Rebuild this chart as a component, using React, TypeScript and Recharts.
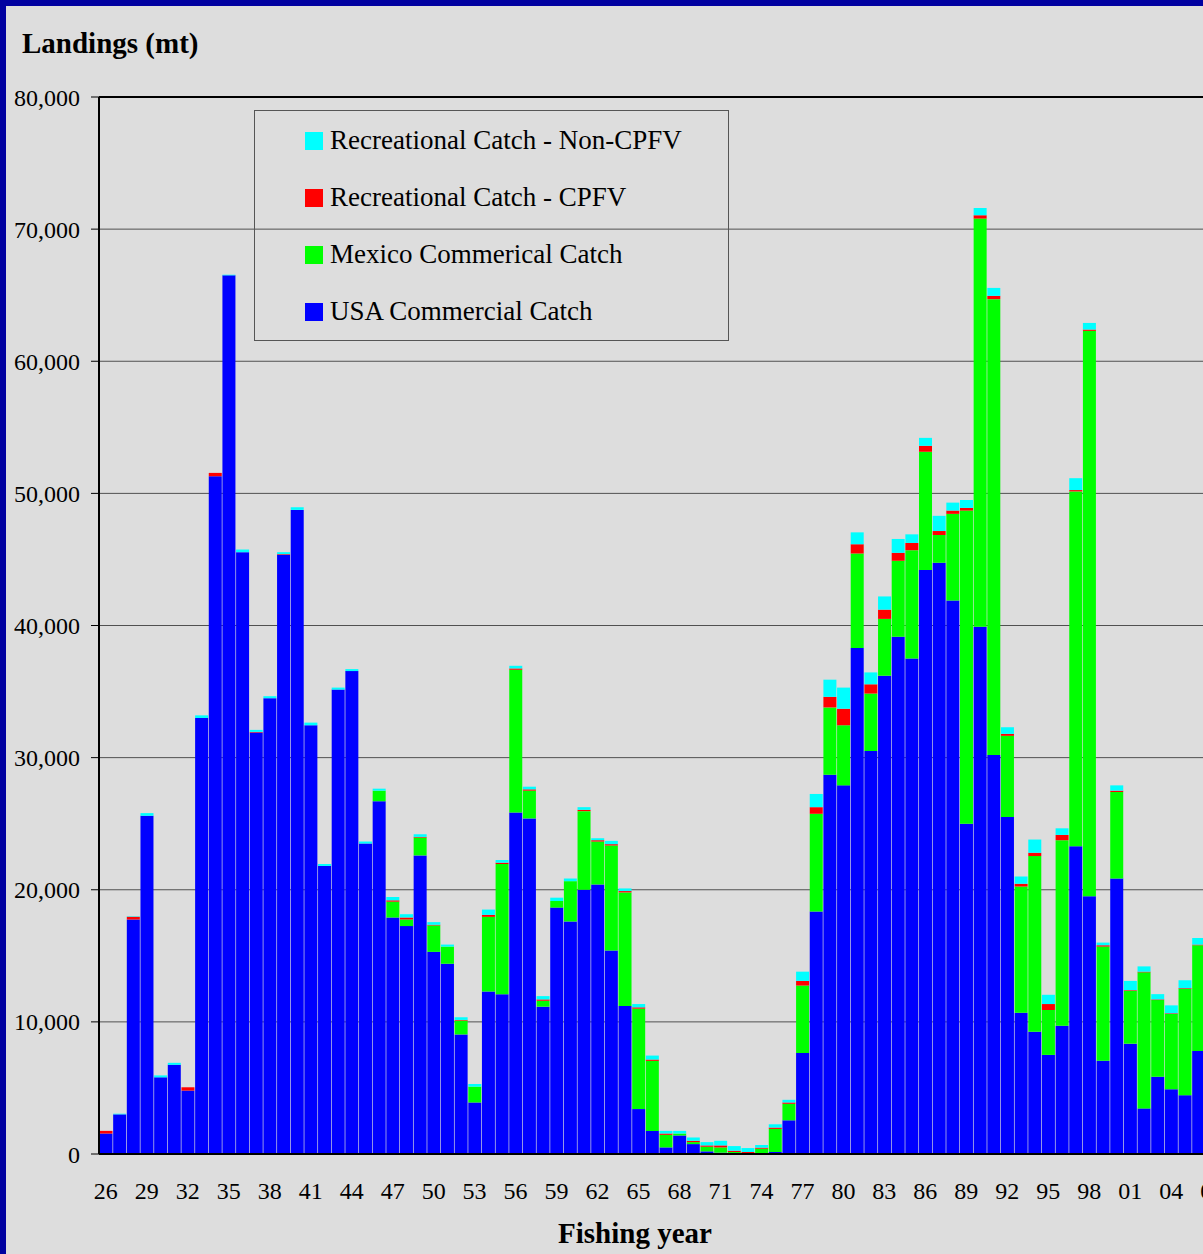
import React from 'react';
import { BarChart, Bar, XAxis, YAxis, CartesianGrid, Legend, ReferenceLine } from 'recharts';

// Fishing years (two-digit labels, 1926 - 2007)
const years = [
  '26', '27', '28', '29', '30', '31', '32', '33', '34', '35',
  '36', '37', '38', '39', '40', '41', '42', '43', '44', '45',
  '46', '47', '48', '49', '50', '51', '52', '53', '54', '55',
  '56', '57', '58', '59', '60', '61', '62', '63', '64', '65',
  '66', '67', '68', '69', '70', '71', '72', '73', '74', '75',
  '76', '77', '78', '79', '80', '81', '82', '83', '84', '85',
  '86', '87', '88', '89', '90', '91', '92', '93', '94', '95',
  '96', '97', '98', '99', '00', '01', '02', '03', '04', '05',
  '06', '07',
];

// landings in metric tons
const usaCommercial = [
  1550, 3000, 17750, 25600, 5800, 6750, 4800, 33000, 51300, 66500,
  45550, 31900, 34500, 45350, 48750, 32450, 21800, 35150, 36550, 23500,
  26700, 17900, 17250, 22600, 15300, 14400, 9050, 3900, 12300, 12100,
  25850, 25400, 11150, 18650, 17600, 20000, 20400, 15400, 11200, 3400,
  1750, 500, 1400, 750, 200, 100, 50, 20, 50, 150,
  2550, 7650, 18350, 28700, 27900, 38300, 30500, 36200, 39150, 37500,
  44200, 44750, 41900, 25000, 39900, 30200, 25500, 10700, 9250, 7500,
  9700, 23300, 19500, 7050, 20850, 8350, 3450, 5850, 4900, 4450,
  7800, null,
];

const mexicoCommercial = [
  0, 0, 0, 0, 0, 0, 0, 0, 0, 0,
  0, 0, 0, 0, 0, 0, 0, 0, 0, 0,
  800, 1200, 500, 1350, 2000, 1300, 1050, 1200, 5650, 9850,
  10800, 2100, 450, 500, 3050, 5950, 3250, 7950, 8600, 7600,
  5300, 950, 150, 150, 350, 400, 100, 50, 350, 1750,
  1250, 5100, 7400, 5100, 4550, 7150, 4350, 4300, 5750, 8200,
  8950, 2100, 6550, 23700, 30900, 34500, 6150, 9550, 13300, 3400,
  14050, 26850, 42800, 8650, 6550, 4000, 10300, 5800, 5700, 8050,
  8000, null,
];

const recCpfv = [
  200, 0, 200, 0, 0, 0, 250, 0, 250, 0,
  0, 50, 0, 50, 0, 0, 0, 0, 0, 0,
  0, 100, 150, 50, 50, 0, 50, 0, 150, 100,
  100, 100, 100, 0, 0, 100, 100, 100, 100, 100,
  100, 100, 0, 100, 100, 150, 100, 80, 80, 100,
  100, 350, 500, 800, 1250, 700, 700, 700, 600, 550,
  450, 300, 250, 200, 250, 250, 150, 200, 250, 450,
  400, 100, 100, 100, 100, 50, 50, 50, 50, 50,
  50, null,
];

const recNonCpfv = [
  0, 50, 50, 200, 150, 150, 0, 200, 0, 50,
  200, 150, 150, 150, 200, 200, 150, 150, 150, 150,
  150, 250, 250, 200, 200, 150, 200, 200, 400, 200,
  200, 200, 250, 250, 200, 200, 150, 250, 200, 250,
  300, 200, 200, 250, 250, 350, 350, 300, 200, 250,
  200, 700, 1000, 1300, 1600, 900, 900, 1000, 1050, 650,
  600, 1150, 600, 600, 550, 600, 500, 550, 1000, 700,
  500, 900, 500, 200, 400, 700, 400, 400, 600, 600,
  500, null,
];

const yTicks = [0, 10000, 20000, 30000, 40000, 50000, 60000, 70000, 80000];

const seriesNames: Record<string, string> = {
  usa: 'USA Commercial Catch',
  mexico: 'Mexico Commerical Catch',
  cpfv: 'Recreational Catch - CPFV',
  nonCpfv: 'Recreational Catch - Non-CPFV',
};

// legend reads top to bottom in this order
const legendOrder = ['nonCpfv', 'cpfv', 'mexico', 'usa'];

const data = years.map((year, i) => ({
  year,
  usa: usaCommercial[i],
  mexico: mexicoCommercial[i],
  cpfv: recCpfv[i],
  nonCpfv: recNonCpfv[i],
}));

// boundary tick positions for the category edges
const boundaryTicks = Array.from({ length: years.length + 1 }, (_, i) => i);

const FONT = "'Liberation Serif', 'Times New Roman', serif";

const LegendBox = ({ payload }: any) => {
  const items = legendOrder
    .map((key) => (payload || []).find((p: any) => p.dataKey === key))
    .filter(Boolean);
  return (
    <div
      style={{
        width: 475,
        height: 231,
        border: '1px solid #555',
        fontFamily: FONT,
        fontSize: 27,
        color: '#000',
        boxSizing: 'border-box',
        paddingTop: 1,
      }}
    >
      {items.map((item: any) => (
        <div key={item.dataKey} style={{ display: 'flex', alignItems: 'center', height: 57, marginLeft: 50 }}>
          <span style={{ display: 'inline-block', width: 18, height: 18, background: item.color, marginRight: 7 }} />
          <span>{item.value}</span>
        </div>
      ))}
    </div>
  );
};

export default function App() {
  return (
    <div
      style={{
        position: 'absolute',
        left: 0,
        top: 0,
        width: 1203,
        height: 1254,
        overflow: 'hidden',
        background: '#DDDDDD',
        fontFamily: FONT,
      }}
    >
      <div style={{ position: 'absolute', left: 0, top: 0, width: 1203, height: 6, background: '#0000A0' }} />
      <div style={{ position: 'absolute', left: 0, top: 0, width: 6, height: 1254, background: '#0000A0' }} />
      <div
        style={{
          position: 'absolute',
          left: 22,
          top: 29,
          fontSize: 29,
          lineHeight: '29px',
          fontWeight: 'bold',
          whiteSpace: 'nowrap',
        }}
      >
        Landings (mt)
      </div>
      <div
        style={{
          position: 'absolute',
          left: 435,
          width: 400,
          top: 1219,
          textAlign: 'center',
          fontSize: 29,
          lineHeight: '29px',
          fontWeight: 'bold',
          whiteSpace: 'nowrap',
        }}
      >
        Fishing year
      </div>
      <div style={{ position: 'absolute', left: 0, top: 0 }}>
        <BarChart
          width={1240}
          height={1254}
          data={data}
          margin={{ top: 97, right: 21, left: 0, bottom: 52 }}
          barCategoryGap={0.5}
          barGap={0}
        >
          <CartesianGrid vertical={false} stroke="#505050" strokeWidth={1} />
          {/* axis 0 sits right under the plot: line + tick marks on category edges */}
          <XAxis
            xAxisId={0}
            type="number"
            domain={[0, years.length]}
            ticks={boundaryTicks}
            allowDataOverflow
            height={8}
            tick={false}
            tickSize={7}
            tickLine={{ stroke: '#000' }}
            axisLine={{ stroke: '#000', strokeWidth: 2 }}
          />
          {/* axis 1 carries the year labels */}
          <XAxis
            xAxisId={1}
            dataKey="year"
            interval={2}
            height={40}
            axisLine={false}
            tickLine={false}
            tickSize={8}
            tickMargin={12}
            tick={{ fill: '#000', fontSize: 24, fontFamily: FONT }}
          />
          <YAxis
            type="number"
            domain={[0, 80000]}
            ticks={yTicks}
            width={99}
            tickSize={8}
            tickMargin={11}
            tickFormatter={(v: number) => v.toLocaleString('en-US')}
            tick={{ fill: '#000', fontSize: 24, fontFamily: FONT }}
            tickLine={{ stroke: '#000' }}
            axisLine={{ stroke: '#000', strokeWidth: 2 }}
          />
          <ReferenceLine y={80000} stroke="#000" strokeWidth={2} />
          <Legend
            layout="vertical"
            align="center"
            verticalAlign="middle"
            content={<LegendBox />}
            wrapperStyle={{ position: 'absolute', left: 254, top: 110, width: 475, height: 231 }}
          />
          <Bar xAxisId={1} dataKey="usa" name={seriesNames.usa} stackId="a" fill="#0000FF" isAnimationActive={false} />
          <Bar xAxisId={1} dataKey="mexico" name={seriesNames.mexico} stackId="a" fill="#00FF00" isAnimationActive={false} />
          <Bar xAxisId={1} dataKey="cpfv" name={seriesNames.cpfv} stackId="a" fill="#FF0000" isAnimationActive={false} />
          <Bar xAxisId={1} dataKey="nonCpfv" name={seriesNames.nonCpfv} stackId="a" fill="#00FFFF" isAnimationActive={false} />
        </BarChart>
      </div>
    </div>
  );
}
